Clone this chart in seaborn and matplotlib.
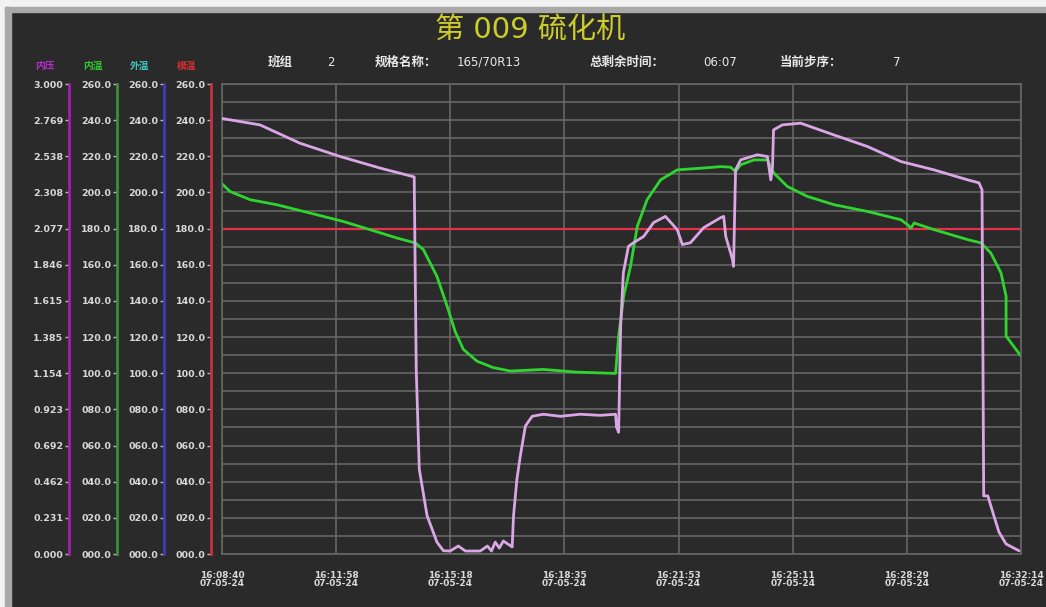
import numpy as np
import matplotlib
matplotlib.use("Agg")
import matplotlib.pyplot as plt
from matplotlib.patches import Rectangle
from matplotlib.ticker import FuncFormatter
import seaborn as sns

W, H = 1046, 607

# x axis: minutes since 16:08:40
t_end = 23.57
time_labels = ['16:08:40\n07-05-24', '16:11:58\n07-05-24', '16:15:18\n07-05-24',
               '16:18:35\n07-05-24', '16:21:53\n07-05-24', '16:25:11\n07-05-24',
               '16:28:29\n07-05-24', '16:32:14\n07-05-24']

# 内压 (MPa, 0-3 scale)
pressure_t = [0, 1.12, 2.30, 3.49, 4.67, 5.67, 5.73, 5.82, 6.05, 6.34, 6.53, 6.73,
              6.97, 7.18, 7.62, 7.83, 7.95, 8.06, 8.18, 8.30, 8.56, 8.60, 8.70,
              8.80, 8.95, 9.15, 9.48, 9.98, 10.57, 11.16, 11.61, 11.64, 11.70,
              11.76, 11.84, 11.99, 12.14, 12.44, 12.73, 13.08, 13.43, 13.58,
              13.82, 14.21, 14.71, 14.80, 14.86, 15.06, 15.09, 15.15, 15.30,
              15.79, 16.09, 16.19, 16.24, 16.27, 16.53, 17.07, 18.05, 19.04,
              20.03, 21.00, 22.00, 22.33, 22.42, 22.47, 22.59, 22.77, 22.92,
              23.13, 23.51]
pressure_mpa = [2.78, 2.739, 2.622, 2.537, 2.463, 2.407, 1.178, 0.541, 0.244,
                0.076, 0.021, 0.019, 0.051, 0.019, 0.019, 0.051, 0.019, 0.076,
                0.038, 0.083, 0.045, 0.244, 0.478, 0.626, 0.817, 0.879, 0.892,
                0.879, 0.892, 0.885, 0.892, 0.809, 0.777, 1.454, 1.796, 1.964,
                1.987, 2.027, 2.115, 2.155, 2.070, 1.975, 1.987, 2.083, 2.147,
                2.155, 2.027, 1.879, 1.836, 2.452, 2.516, 2.548, 2.537, 2.388,
                2.473, 2.707, 2.739, 2.750, 2.675, 2.601, 2.505, 2.452, 2.388,
                2.369, 2.325, 0.371, 0.371, 0.244, 0.140, 0.064, 0.021]

# 内温 (0-260 scale)
inner_temp_t = [0, 0.24, 0.83, 1.62, 2.60, 3.57, 4.37, 5.16, 5.70, 5.94, 6.34,
                6.64, 6.88, 7.12, 7.52, 8.00, 8.51, 9.48, 10.48, 11.61, 11.70,
                11.85, 12.05, 12.25, 12.54, 12.94, 13.43, 14.12, 14.71, 15.00,
                15.15, 15.30, 15.69, 16.09, 16.28, 16.68, 17.27, 18.06, 19.04,
                20.03, 20.22, 20.32, 20.42, 21.01, 22.00, 22.39, 22.68, 22.98,
                23.13, 23.13, 23.57]
inner_temp = [204.8, 200.5, 196.0, 193.2, 188.6, 184.0, 179.4, 174.8, 172.1,
              168.4, 153.6, 137.1, 123.0, 113.2, 106.7, 103.1, 101.2, 102.1,
              100.6, 99.9, 120.5, 142.6, 159.1, 181.2, 196.0, 207.0, 212.5,
              213.4, 214.3, 214.0, 211.6, 215.3, 218.0, 218.0, 210.7, 203.3,
              197.8, 193.2, 189.5, 184.9, 182.2, 180.3, 183.1, 179.4, 173.9,
              172.1, 166.5, 155.5, 142.6, 120.5, 109.5]

# 模温 (0-260 scale)
mold_temp_t = [0, t_end]
mold_temp = [180, 180]

scale_names = ['内压', '内温', '外温', '模温']
header_labels = ['班组', '规格名称：', '总剩余时间：', '当前步序：']
header_values = ['2', '165/70R13', '06:07', '7']
title = '第 009 硫化机'

sns.set_theme(style='dark', rc={'axes.facecolor': '#2a2a2a',
                                'figure.facecolor': '#2a2a2a'})
plt.rcParams['font.family'] = ['DejaVu Sans', 'Noto Sans CJK SC']

fig = plt.figure(figsize=(W / 100, H / 100), dpi=100)

def px(x, y):
    return x / W, 1 - y / H

# light frame along top and left edge
fig.patches.append(Rectangle((0, 1 - 7 / H), 1, 7 / H, transform=fig.transFigure,
                             color='#f2f2f2', zorder=0))
fig.patches.append(Rectangle((0, 0), 5 / W, 1, transform=fig.transFigure,
                             color='#f2f2f2', zorder=0))
fig.patches.append(Rectangle((5 / W, 1 - 12 / H), 1, 5 / H, transform=fig.transFigure,
                             color='#a9a9a9', zorder=0))
fig.patches.append(Rectangle((5 / W, 0), 6 / W, 1 - 7 / H, transform=fig.transFigure,
                             color='#a9a9a9', zorder=0))

left, right, top, bottom = 222, 1021, 84, 554
ax = fig.add_axes([left / W, 1 - bottom / H, (right - left) / W, (bottom - top) / H])
ax.set_facecolor('#2a2a2a')

# main grid
ax.set_xlim(0, t_end)
ax.set_ylim(0, 260)
ax.set_xticks(np.linspace(0, t_end, 8))
ax.set_xticklabels(time_labels)
ax.set_yticks(np.arange(0, 261, 10))
ax.set_yticklabels([])
ax.grid(True, color='#666666', lw=1.2)
ax.tick_params(axis='x', length=0, pad=12, labelsize=6.5, labelcolor='#d8d8d8')
ax.tick_params(axis='y', length=0)
for lbl in ax.get_xticklabels():
    lbl.set_fontweight('bold')
    lbl.set_linespacing(0.95)
for s in ax.spines.values():
    s.set_color('#666666')
    s.set_linewidth(1.2)

sns.lineplot(x=mold_temp_t, y=mold_temp, ax=ax, color='#e8304a', lw=1.6,
             estimator=None, sort=False)
sns.lineplot(x=inner_temp_t, y=inner_temp, ax=ax, color='#2fd52f', lw=2.0,
             estimator=None, sort=False)
ax.set_xlabel('')
ax.set_ylabel('')

# the four scale axes on the left
scale_axes = []
spine_pos = [69, 117, 164, 211]
spine_colors = ['#a020b0', '#3a8f3a', '#3c3cc0', '#c83040']
name_colors = ['#b030c8', '#30c830', '#40c8c0', '#d83030']
for i, name in enumerate(scale_names):
    sax = ax.twinx()
    sax.patch.set_visible(False)
    sax.grid(False)
    for s in ['top', 'right', 'bottom']:
        sax.spines[s].set_visible(False)
    sax.spines['left'].set_visible(True)
    sax.spines['left'].set_position(('axes', (spine_pos[i] - left) / (right - left)))
    sax.spines['left'].set_color(spine_colors[i])
    sax.spines['left'].set_linewidth(2)
    sax.yaxis.set_ticks_position('left')
    sax.yaxis.set_label_position('left')
    if i == 0:
        sax.set_ylim(0, 3)
        sax.set_yticks(np.linspace(0, 3, 14))
        sax.yaxis.set_major_formatter(FuncFormatter(lambda v, p: f'{v:.3f}'))
    else:
        sax.set_ylim(0, 260)
        sax.set_yticks(np.arange(0, 261, 20))
        sax.yaxis.set_major_formatter(FuncFormatter(lambda v, p: f'{v:05.1f}'))
    sax.tick_params(axis='y', color='#bbbbbb', labelcolor='#d8d8d8', length=3,
                    width=1, labelsize=6.8, pad=1)
    for lbl in sax.get_yticklabels():
        lbl.set_fontweight('bold')
    fig.text(*px(spine_pos[i] - 24, 66), name, color=name_colors[i], fontsize=7,
             fontweight='bold', ha='center', va='center')
    scale_axes.append(sax)

# pressure goes on the 0-3 scale
sns.lineplot(x=pressure_t, y=pressure_mpa, ax=scale_axes[0], color='#dba6e6',
             lw=2.0, estimator=None, sort=False)
scale_axes[0].set_ylabel('')

# header
fig.text(*px(530, 31), title, color='#cccc2a', fontsize=21, ha='center', va='center')
label_x = [268, 375, 590, 780]
value_x = [327, 457, 703, 893]
for lab, lx, val, vx in zip(header_labels, label_x, header_values, value_x):
    fig.text(*px(lx, 62), lab, color='#e8e8e8', fontsize=9, fontweight='bold',
             ha='left', va='center')
    fig.text(*px(vx, 62), val, color='#e8e8e8', fontsize=8.5, ha='left', va='center')

fig.savefig('out.png', dpi=100, facecolor=fig.get_facecolor())
